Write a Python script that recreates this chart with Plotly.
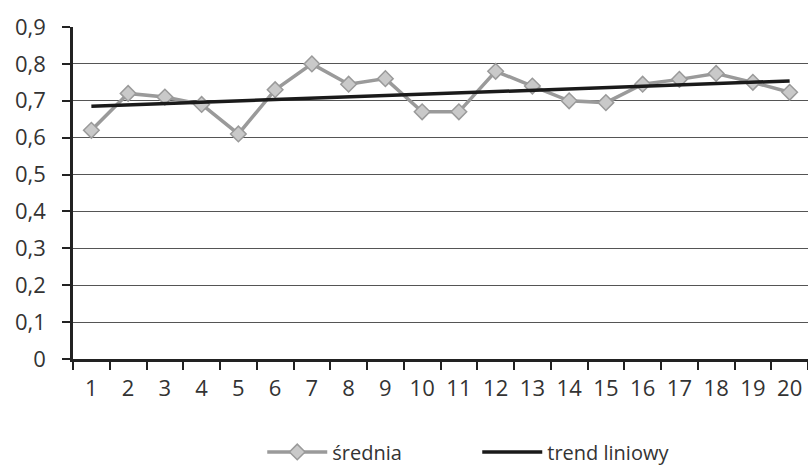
import numpy as np
import plotly.graph_objects as go

categories = [str(i) for i in range(1, 21)]
srednia = [0.62, 0.72, 0.71, 0.69, 0.61, 0.73, 0.80, 0.745, 0.76, 0.67,
           0.67, 0.78, 0.74, 0.70, 0.695, 0.745, 0.758, 0.774, 0.75, 0.723]
y_tickvals = [0, 0.1, 0.2, 0.3, 0.4, 0.5, 0.6, 0.7, 0.8, 0.9]
y_ticktext = ["0", "0,1", "0,2", "0,3", "0,4", "0,5", "0,6", "0,7", "0,8", "0,9"]

# linear trend (Excel "trend liniowy") fitted to the series
xs = np.arange(1, len(srednia) + 1)
slope, intercept = np.polyfit(xs, srednia, 1)
trend = list(slope * xs + intercept)

FONT = "Open Sans"

fig = go.Figure()
fig.add_trace(go.Scatter(
    x=categories, y=srednia, name="średnia", mode="lines+markers",
    line=dict(color="#9a9a9a", width=3.5),
    marker=dict(symbol="diamond", size=12, color="#c9c9c9",
                line=dict(color="#9a9a9a", width=1.5)),
))
fig.add_trace(go.Scatter(
    x=categories, y=trend, name="trend liniowy", mode="lines",
    line=dict(color="#1a1a1a", width=3.5),
))

fig.update_layout(
    width=808, height=468,
    margin=dict(l=73, r=0, t=27, b=109, autoexpand=False),
    paper_bgcolor="white", plot_bgcolor="white",
    font=dict(family=FONT, size=22, color="#333333"),
    showlegend=True,
    legend=dict(orientation="h", x=0.55, xanchor="center", y=-0.28, yanchor="middle",
                font=dict(size=20, color="#333333"), entrywidth=140, entrywidthmode="pixels",
                itemwidth=60),
)
fig.update_xaxes(
    type="category", range=[-0.5, 19.5], tickson="boundaries",
    ticks="outside", ticklen=8, tickwidth=1.5, tickcolor="#222222",
    showline=True, linecolor="#222222", linewidth=2.5,
    showgrid=False, zeroline=False, ticklabelstandoff=8, automargin=False,
    tickfont=dict(family=FONT, size=22, color="#333333"),
)
fig.update_yaxes(
    range=[0, 0.9], tickvals=y_tickvals, ticktext=y_ticktext,
    ticks="outside", ticklen=8, tickwidth=1.5, tickcolor="#222222",
    showline=True, linecolor="#222222", linewidth=2.5,
    showgrid=True, gridcolor="#555555", gridwidth=1.3, zeroline=False,
    ticklabelstandoff=12, automargin=False,
    tickfont=dict(family=FONT, size=22, color="#333333"),
)

fig.write_html("out.html", config={"displayModeBar": False},
               post_script="document.body.style.margin='0px';document.body.style.overflow='hidden';")
